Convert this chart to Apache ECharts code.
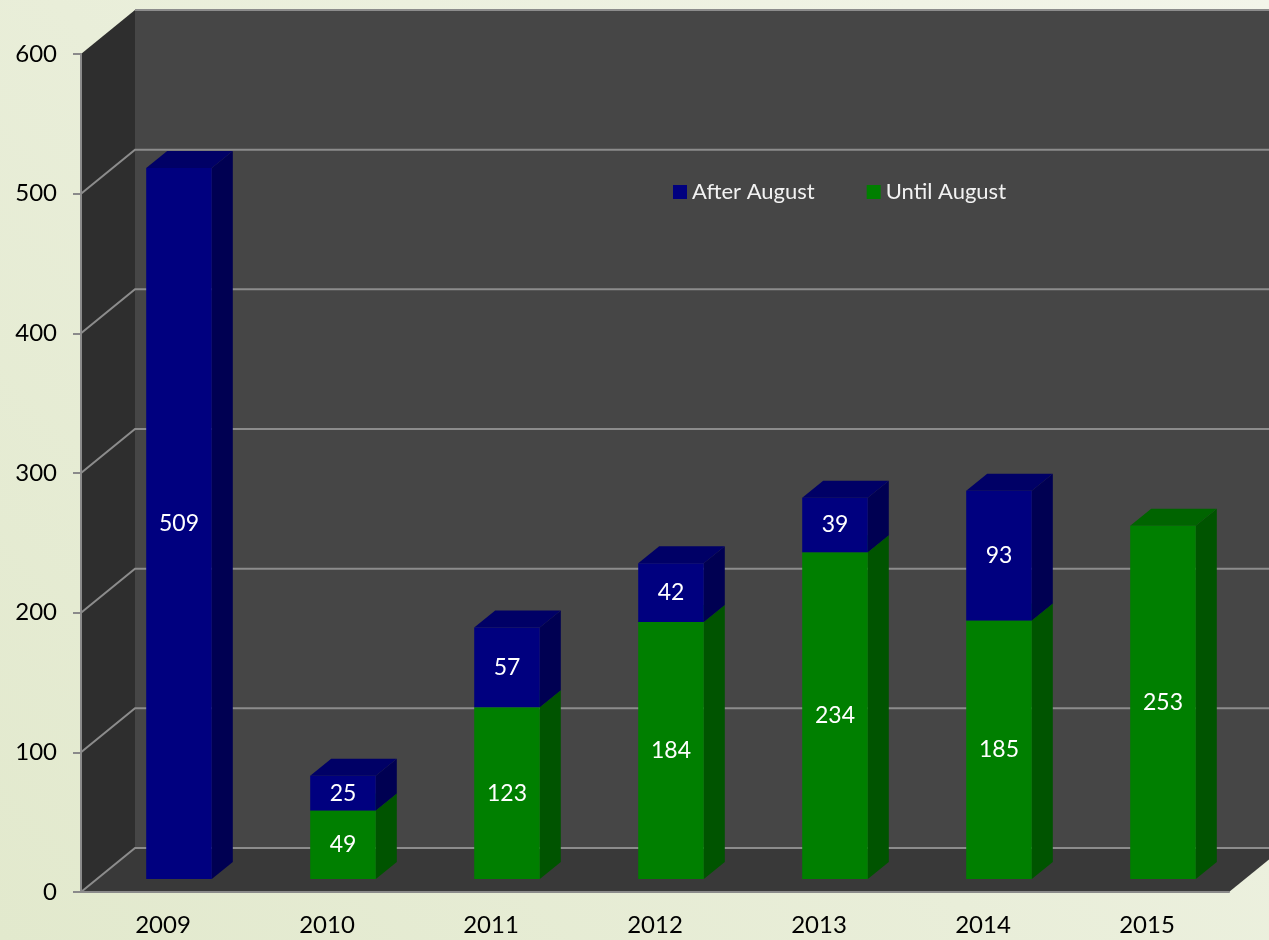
<!DOCTYPE html>
<html>
<head>
<meta charset="utf-8">
<style>
  html, body { margin: 0; padding: 0; }
  body { background: linear-gradient(45deg, #e2e9cd 0%, #e9eed9 45%, #f3f5ea 100%); }
  #chart { width: 1269px; height: 940px; }
</style>
<script src="https://cdn.jsdelivr.net/npm/echarts/dist/echarts.min.js"></script>
</head>
<body>
<div id="chart"></div>
<script>
const years = ['2009', '2010', '2011', '2012', '2013', '2014', '2015']
const untilAugust = [null, 49, 123, 184, 234, 185, 253]
const afterAugust = [509, 25, 57, 42, 39, 93, null]
const yTicks = [0, 100, 200, 300, 400, 500, 600]

// depth of the walls, bar face offset and bar depth (px)
const DX = 54, DY = -44
const FX = 16, FY = -13
const BX = 21, BY = -17
const FONT = 'Lato, "Noto Sans", sans-serif'

const chart = echarts.init(document.getElementById('chart'))

function stackItems(vals, bases) {
    const out = []
    vals.forEach((v, i) => {
        if (v == null) return
        const b = bases ? (bases[i] || 0) : 0
        out.push([i, b, b + v, v])
    })
    return out
}

function boxRenderer(front, top, side) {
    return (params, api) => {
        const i = api.value(0)
        const c0 = api.coord([i, api.value(1)])
        const c1 = api.coord([i, api.value(2)])
        const w = api.size([1, 0])[0] * 0.4
        const x = c0[0] - w / 2 + FX
        const y0 = c0[1] + FY
        const y1 = c1[1] + FY
        return {
            type: 'group',
            children: [
                { type: 'polygon', shape: { points: [[x + w, y1], [x + w + BX, y1 + BY], [x + w + BX, y0 + BY], [x + w, y0]] }, style: { fill: side } },
                { type: 'polygon', shape: { points: [[x, y1], [x + BX, y1 + BY], [x + w + BX, y1 + BY], [x + w, y1]] }, style: { fill: top } },
                { type: 'rect', shape: { x: x, y: y1, width: w, height: y0 - y1 }, style: { fill: front } },
                { type: 'text', x: x + w / 2, y: (y0 + y1) / 2,
                  style: { text: String(api.value(3)), fill: '#ffffff', fontSize: 23, fontFamily: FONT, align: 'center', verticalAlign: 'middle' } }
            ]
        }
    }
}

const option = {
    animation: false,
    backgroundColor: 'transparent',
    grid: { left: 81, right: 40, top: 54, bottom: 48 },
    legend: {
        data: ['After August', 'Until August'],
        left: 668, top: 176,
        icon: 'rect', itemWidth: 14, itemHeight: 14, itemGap: 52,
        textStyle: { color: '#f2f2f2', fontSize: 22, fontFamily: FONT }
    },
    xAxis: {
        type: 'category',
        data: years,
        z: 10,
        axisLine: { lineStyle: { color: '#8a8a8a', width: 2 } },
        axisTick: { length: 9, lineStyle: { color: '#8a8a8a', width: 2 } },
        axisLabel: { color: '#000', fontSize: 24, fontFamily: FONT, margin: 21 }
    },
    yAxis: {
        type: 'value',
        min: 0, max: 600, interval: 100,
        z: 10,
        splitLine: { show: false },
        axisLine: { show: true, lineStyle: { color: '#8a8a8a', width: 2 } },
        axisTick: { show: true, length: 8, lineStyle: { color: '#8a8a8a', width: 2 } },
        axisLabel: { color: '#000', fontSize: 24, fontFamily: FONT, margin: 24 }
    },
    series: [
        {
            name: 'walls',
            type: 'custom',
            z: 1,
            silent: true,
            data: [[0]],
            renderItem: (params) => {
                const cs = params.coordSys
                const L = cs.x, R = cs.x + cs.width, T = cs.y, B = cs.y + cs.height
                return {
                    type: 'group',
                    children: [
                        { type: 'rect', shape: { x: L + DX, y: T + DY, width: cs.width, height: cs.height }, style: { fill: '#464646' } },
                        { type: 'polygon', shape: { points: [[L, T], [L + DX, T + DY], [L + DX, B + DY], [L, B]] }, style: { fill: '#2e2e2e' } },
                        { type: 'polygon', shape: { points: [[L, B], [L + DX, B + DY], [R + DX, B + DY], [R, B]] }, style: { fill: '#393939' } }
                    ]
                }
            }
        },
        {
            name: 'grid lines',
            type: 'custom',
            z: 2,
            silent: true,
            data: yTicks.map(v => [v]),
            renderItem: (params, api) => {
                const cs = params.coordSys
                const L = cs.x, R = cs.x + cs.width
                const v = api.value(0)
                const y = api.coord([0, v])[1]
                const pts = v === yTicks[yTicks.length - 1]
                    ? [[L + DX, y + DY], [R + DX, y + DY]]
                    : [[L, y], [L + DX, y + DY], [R + DX, y + DY]]
                return { type: 'polyline', shape: { points: pts }, style: { stroke: '#8c8c8c', lineWidth: 2, fill: null } }
            }
        },
        {
            name: 'Until August',
            type: 'custom',
            z: 3,
            itemStyle: { color: '#007f00' },
            data: stackItems(untilAugust),
            renderItem: boxRenderer('#007f00', '#006400', '#005400')
        },
        {
            name: 'After August',
            type: 'custom',
            z: 3,
            itemStyle: { color: '#00007f' },
            data: stackItems(afterAugust, untilAugust),
            renderItem: boxRenderer('#00007f', '#000066', '#000052')
        }
    ]
}

chart.setOption(option)
</script>
</body>
</html>
